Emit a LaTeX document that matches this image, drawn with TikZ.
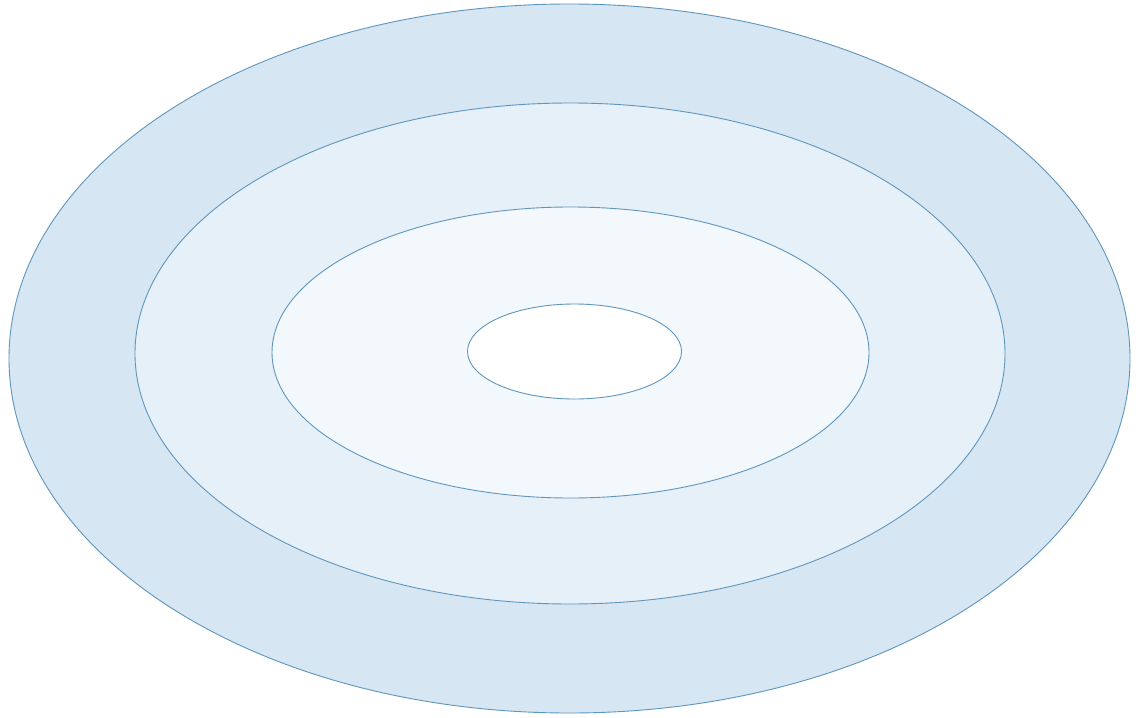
\documentclass[tikz,border=0pt]{standalone}
\definecolor{ringA}{RGB}{214,230,242}
\definecolor{ringB}{RGB}{229,240,248}
\definecolor{ringC}{RGB}{243,248,252}
\definecolor{edge}{RGB}{95,150,190}
\tikzset{ring/.style={draw=edge,line width=0.9pt}}
\begin{document}
\begin{tikzpicture}[x=1pt,y=-1pt]
\useasboundingbox (0,0) rectangle (1139,717);
\fill[white] (0,0) rectangle (1139,717);
\path[ring,fill=ringA] (569.5,358.5) ellipse [x radius=560.5,y radius=354.5];
\path[ring,fill=ringB] (570,353.5) ellipse [x radius=435,y radius=250.5];
\path[ring,fill=ringC] (570.5,352.5) ellipse [x radius=298.5,y radius=145.5];
\path[ring,fill=white] (574.5,351.5) ellipse [x radius=107,y radius=47.5];
\end{tikzpicture}
\end{document}
